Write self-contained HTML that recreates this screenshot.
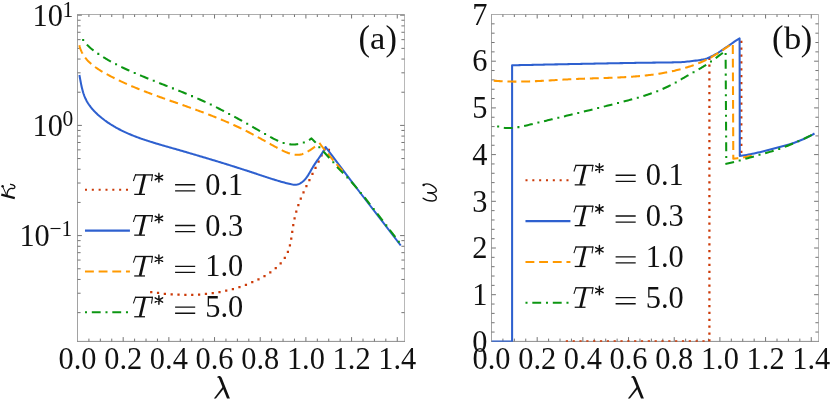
<!DOCTYPE html>
<html><head><meta charset="utf-8"><title>plot</title>
<style>
html,body{margin:0;padding:0;background:#fff;}
body{width:830px;height:400px;overflow:hidden;}
svg{display:block;will-change:transform;}
text{font-family:"Liberation Serif",serif;fill:#111;}
.it{font-style:italic;}
</style></head><body>
<svg width="830" height="400" viewBox="0 0 830 400">
<rect x="0" y="0" width="830" height="400" fill="#ffffff"/>

<defs><clipPath id="ca"><rect x="77.5" y="14.5" width="327.0" height="327.25"/></clipPath><clipPath id="cb"><rect x="491.5" y="14.5" width="327.0" height="327.25"/></clipPath></defs>
<g fill="none" stroke-width="1" stroke-linecap="square"><path d="M77.5,14.5 H404.5" stroke="#adadad"/><path d="M404.5,14.5 V341.4" stroke="#b8b8b8"/><path d="M77.5,14.5 V341.4" stroke="#a2a2a2"/><path d="M77.5,341.4 H404.5" stroke="#8c8c8c"/></g>
<path d="M88.92,341.4 v-2.8 M88.92,14.5 v2.5 M100.34,341.4 v-2.8 M100.34,14.5 v2.5 M111.76,341.4 v-2.8 M111.76,14.5 v2.5 M123.18,341.4 v-4.3 M123.18,14.5 v4.0 M134.60,341.4 v-2.8 M134.60,14.5 v2.5 M146.02,341.4 v-2.8 M146.02,14.5 v2.5 M157.44,341.4 v-2.8 M157.44,14.5 v2.5 M168.86,341.4 v-4.3 M168.86,14.5 v4.0 M180.28,341.4 v-2.8 M180.28,14.5 v2.5 M191.70,341.4 v-2.8 M191.70,14.5 v2.5 M203.12,341.4 v-2.8 M203.12,14.5 v2.5 M214.54,341.4 v-4.3 M214.54,14.5 v4.0 M225.96,341.4 v-2.8 M225.96,14.5 v2.5 M237.38,341.4 v-2.8 M237.38,14.5 v2.5 M248.80,341.4 v-2.8 M248.80,14.5 v2.5 M260.22,341.4 v-4.3 M260.22,14.5 v4.0 M271.64,341.4 v-2.8 M271.64,14.5 v2.5 M283.06,341.4 v-2.8 M283.06,14.5 v2.5 M294.48,341.4 v-2.8 M294.48,14.5 v2.5 M305.90,341.4 v-4.3 M305.90,14.5 v4.0 M317.32,341.4 v-2.8 M317.32,14.5 v2.5 M328.74,341.4 v-2.8 M328.74,14.5 v2.5 M340.16,341.4 v-2.8 M340.16,14.5 v2.5 M351.58,341.4 v-4.3 M351.58,14.5 v4.0 M363.00,341.4 v-2.8 M363.00,14.5 v2.5 M374.42,341.4 v-2.8 M374.42,14.5 v2.5 M385.84,341.4 v-2.8 M385.84,14.5 v2.5 M397.26,341.4 v-4.3 M397.26,14.5 v4.0 M77.5,15.20 h4.4 M404.5,15.20 h-4.4 M77.5,125.40 h4.4 M404.5,125.40 h-4.4 M77.5,235.60 h4.4 M404.5,235.60 h-4.4 M77.5,92.23 h3.1 M404.5,92.23 h-3.1 M77.5,72.82 h3.1 M404.5,72.82 h-3.1 M77.5,59.05 h3.1 M404.5,59.05 h-3.1 M77.5,48.37 h3.1 M404.5,48.37 h-3.1 M77.5,39.65 h3.1 M404.5,39.65 h-3.1 M77.5,32.27 h3.1 M404.5,32.27 h-3.1 M77.5,25.88 h3.1 M404.5,25.88 h-3.1 M77.5,20.24 h3.1 M404.5,20.24 h-3.1 M77.5,202.43 h3.1 M404.5,202.43 h-3.1 M77.5,183.02 h3.1 M404.5,183.02 h-3.1 M77.5,169.25 h3.1 M404.5,169.25 h-3.1 M77.5,158.57 h3.1 M404.5,158.57 h-3.1 M77.5,149.85 h3.1 M404.5,149.85 h-3.1 M77.5,142.47 h3.1 M404.5,142.47 h-3.1 M77.5,136.08 h3.1 M404.5,136.08 h-3.1 M77.5,130.44 h3.1 M404.5,130.44 h-3.1 M77.5,312.63 h3.1 M404.5,312.63 h-3.1 M77.5,293.22 h3.1 M404.5,293.22 h-3.1 M77.5,279.45 h3.1 M404.5,279.45 h-3.1 M77.5,268.77 h3.1 M404.5,268.77 h-3.1 M77.5,260.05 h3.1 M404.5,260.05 h-3.1 M77.5,252.67 h3.1 M404.5,252.67 h-3.1 M77.5,246.28 h3.1 M404.5,246.28 h-3.1 M77.5,240.64 h3.1 M404.5,240.64 h-3.1" fill="none" stroke="#747474" stroke-width="1"/>
<g fill="none" stroke-width="1" stroke-linecap="square"><path d="M491.5,14.5 H818.5" stroke="#adadad"/><path d="M818.5,14.5 V341.4" stroke="#b8b8b8"/><path d="M491.5,14.5 V341.4" stroke="#a2a2a2"/><path d="M491.5,341.4 H818.5" stroke="#8c8c8c"/></g>
<path d="M502.92,341.4 v-2.8 M502.92,14.5 v2.5 M514.34,341.4 v-2.8 M514.34,14.5 v2.5 M525.76,341.4 v-2.8 M525.76,14.5 v2.5 M537.18,341.4 v-4.3 M537.18,14.5 v4.0 M548.60,341.4 v-2.8 M548.60,14.5 v2.5 M560.02,341.4 v-2.8 M560.02,14.5 v2.5 M571.44,341.4 v-2.8 M571.44,14.5 v2.5 M582.86,341.4 v-4.3 M582.86,14.5 v4.0 M594.28,341.4 v-2.8 M594.28,14.5 v2.5 M605.70,341.4 v-2.8 M605.70,14.5 v2.5 M617.12,341.4 v-2.8 M617.12,14.5 v2.5 M628.54,341.4 v-4.3 M628.54,14.5 v4.0 M639.96,341.4 v-2.8 M639.96,14.5 v2.5 M651.38,341.4 v-2.8 M651.38,14.5 v2.5 M662.80,341.4 v-2.8 M662.80,14.5 v2.5 M674.22,341.4 v-4.3 M674.22,14.5 v4.0 M685.64,341.4 v-2.8 M685.64,14.5 v2.5 M697.06,341.4 v-2.8 M697.06,14.5 v2.5 M708.48,341.4 v-2.8 M708.48,14.5 v2.5 M719.90,341.4 v-4.3 M719.90,14.5 v4.0 M731.32,341.4 v-2.8 M731.32,14.5 v2.5 M742.74,341.4 v-2.8 M742.74,14.5 v2.5 M754.16,341.4 v-2.8 M754.16,14.5 v2.5 M765.58,341.4 v-4.3 M765.58,14.5 v4.0 M777.00,341.4 v-2.8 M777.00,14.5 v2.5 M788.42,341.4 v-2.8 M788.42,14.5 v2.5 M799.84,341.4 v-2.8 M799.84,14.5 v2.5 M811.26,341.4 v-4.3 M811.26,14.5 v4.0 M491.5,294.70 h4.4 M818.5,294.70 h-4.4 M491.5,248.00 h4.4 M818.5,248.00 h-4.4 M491.5,201.30 h4.4 M818.5,201.30 h-4.4 M491.5,154.60 h4.4 M818.5,154.60 h-4.4 M491.5,107.90 h4.4 M818.5,107.90 h-4.4 M491.5,61.20 h4.4 M818.5,61.20 h-4.4 M491.5,332.06 h3.1 M818.5,332.06 h-3.1 M491.5,322.72 h3.1 M818.5,322.72 h-3.1 M491.5,313.38 h3.1 M818.5,313.38 h-3.1 M491.5,304.04 h3.1 M818.5,304.04 h-3.1 M491.5,285.36 h3.1 M818.5,285.36 h-3.1 M491.5,276.02 h3.1 M818.5,276.02 h-3.1 M491.5,266.68 h3.1 M818.5,266.68 h-3.1 M491.5,257.34 h3.1 M818.5,257.34 h-3.1 M491.5,238.66 h3.1 M818.5,238.66 h-3.1 M491.5,229.32 h3.1 M818.5,229.32 h-3.1 M491.5,219.98 h3.1 M818.5,219.98 h-3.1 M491.5,210.64 h3.1 M818.5,210.64 h-3.1 M491.5,191.96 h3.1 M818.5,191.96 h-3.1 M491.5,182.62 h3.1 M818.5,182.62 h-3.1 M491.5,173.28 h3.1 M818.5,173.28 h-3.1 M491.5,163.94 h3.1 M818.5,163.94 h-3.1 M491.5,145.26 h3.1 M818.5,145.26 h-3.1 M491.5,135.92 h3.1 M818.5,135.92 h-3.1 M491.5,126.58 h3.1 M818.5,126.58 h-3.1 M491.5,117.24 h3.1 M818.5,117.24 h-3.1 M491.5,98.56 h3.1 M818.5,98.56 h-3.1 M491.5,89.22 h3.1 M818.5,89.22 h-3.1 M491.5,79.88 h3.1 M818.5,79.88 h-3.1 M491.5,70.54 h3.1 M818.5,70.54 h-3.1 M491.5,51.86 h3.1 M818.5,51.86 h-3.1 M491.5,42.52 h3.1 M818.5,42.52 h-3.1 M491.5,33.18 h3.1 M818.5,33.18 h-3.1 M491.5,23.84 h3.1 M818.5,23.84 h-3.1" fill="none" stroke="#747474" stroke-width="1"/>
<g clip-path="url(#ca)"><path d="M151.25,292.00 L152.42,292.18 L153.60,292.36 L154.78,292.53 L155.96,292.69 L157.14,292.85 L158.32,293.01 L159.50,293.16 L160.69,293.30 L161.88,293.44 L163.06,293.57 L164.25,293.70 L165.44,293.81 L166.64,293.93 L167.83,294.04 L169.02,294.14 L170.22,294.23 L171.42,294.32 L172.61,294.41 L173.81,294.48 L175.01,294.55 L176.21,294.62 L177.41,294.68 L178.61,294.73 L179.81,294.77 L181.01,294.81 L182.21,294.84 L183.41,294.86 L184.61,294.88 L185.82,294.89 L187.02,294.89 L188.22,294.89 L189.42,294.88 L190.62,294.86 L191.83,294.84 L193.03,294.80 L194.23,294.77 L195.43,294.72 L196.63,294.66 L197.83,294.60 L199.03,294.53 L200.23,294.45 L201.43,294.37 L202.62,294.28 L203.82,294.18 L205.02,294.07 L206.21,293.95 L207.40,293.83 L208.60,293.70 L209.79,293.56 L210.98,293.41 L212.17,293.25 L213.35,293.09 L214.54,292.91 L215.73,292.73 L216.91,292.54 L218.09,292.34 L219.27,292.13 L220.45,291.92 L221.63,291.69 L222.80,291.46 L223.97,291.22 L225.14,290.97 L226.31,290.71 L227.48,290.44 L228.64,290.16 L229.80,289.87 L230.96,289.58 L232.12,289.27 L233.28,288.96 L234.43,288.63 L235.58,288.30 L236.73,287.96 L237.87,287.61 L239.01,287.24 L240.15,286.87 L241.29,286.49 L242.42,286.10 L243.55,285.70 L244.68,285.29 L245.80,284.87 L246.92,284.44 L248.04,284.00 L249.16,283.55 L250.27,283.08 L251.37,282.61 L252.48,282.13 L253.58,281.64 L254.68,281.14 L255.77,280.63 L256.86,280.10 L257.94,279.57 L259.02,279.02 L260.10,278.47 L261.17,277.90 L262.24,277.33 L263.30,276.74 L264.36,276.14 L265.41,275.52 L266.45,274.90 L267.48,274.26 L268.49,273.61 L269.50,272.94 L270.50,272.26 L271.48,271.57 L272.44,270.86 L273.40,270.14 L274.33,269.40 L275.25,268.65 L276.15,267.88 L277.04,267.09 L277.90,266.29 L278.74,265.47 L279.56,264.63 L280.36,263.77 L281.14,262.90 L281.89,262.01 L282.61,261.10 L283.31,260.16 L283.98,259.21 L284.63,258.24 L285.24,257.25 L285.83,256.24 L286.39,255.21 L286.91,254.16 L287.40,253.08 L287.86,251.98 L288.29,250.87 L288.68,249.73 L289.05,248.58 L289.39,247.41 L289.71,246.23 L290.00,245.03 L290.28,243.83 L290.53,242.62 L290.77,241.41 L290.99,240.19 L291.20,238.97 L291.39,237.75 L291.58,236.53 L291.76,235.31 L291.93,234.10 L292.10,232.89 L292.27,231.68 L292.44,230.48 L292.61,229.28 L292.78,228.08 L292.96,226.89 L293.14,225.70 L293.34,224.52 L293.55,223.34 L293.77,222.16 L294.00,220.99 L294.24,219.83 L294.49,218.67 L294.76,217.51 L295.03,216.35 L295.32,215.20 L295.62,214.06 L295.93,212.92 L296.25,211.78 L296.58,210.64 L296.92,209.51 L297.27,208.38 L297.64,207.26 L298.01,206.13 L298.39,205.01 L298.79,203.90 L299.20,202.78 L299.61,201.67 L300.04,200.56 L300.48,199.46 L300.93,198.35 L301.39,197.25 L301.86,196.15 L302.34,195.05 L302.82,193.95 L303.32,192.86 L303.81,191.77 L304.32,190.67 L304.82,189.58 L305.33,188.50 L305.85,187.41 L306.37,186.32 L306.89,185.24 L307.41,184.15 L307.94,183.07 L308.47,181.99 L309.00,180.91 L309.53,179.83 L310.06,178.75 L310.60,177.67 L311.13,176.60 L311.67,175.52 L312.20,174.45 L312.74,173.38 L313.27,172.30 L313.80,171.23 L314.34,170.16 L314.87,169.09 L315.40,168.02 L315.94,166.95 L316.47,165.88 L317.00,164.81 L317.53,163.74 L318.06,162.67 L318.59,161.60 L319.12,160.53 L319.64,159.46 L320.17,158.39 L320.70,157.31 L321.22,156.24 L321.75,155.16 L322.27,154.09 L322.80,153.01 L323.32,151.93 L323.84,150.85 L324.36,149.77 L324.88,148.69 L325.40,147.60 L325.40,147.60 L326.60,147.00 L331.20,152.60" fill="none" stroke="#cc3a08" stroke-width="2.25" stroke-linejoin="round" stroke-dasharray="0 6.858" stroke-linecap="square"/></g>
<g clip-path="url(#ca)"><path d="M79.40,75.00 L79.61,76.14 L79.82,77.29 L80.03,78.45 L80.25,79.61 L80.46,80.79 L80.69,81.97 L80.92,83.15 L81.15,84.34 L81.40,85.53 L81.66,86.72 L81.94,87.90 L82.23,89.08 L82.54,90.26 L82.87,91.43 L83.21,92.59 L83.58,93.75 L83.98,94.89 L84.40,96.02 L84.85,97.13 L85.33,98.24 L85.84,99.32 L86.38,100.39 L86.95,101.44 L87.55,102.47 L88.18,103.48 L88.84,104.48 L89.53,105.46 L90.24,106.42 L90.97,107.37 L91.73,108.30 L92.51,109.22 L93.31,110.12 L94.12,111.00 L94.96,111.87 L95.81,112.72 L96.68,113.56 L97.56,114.38 L98.45,115.19 L99.36,115.99 L100.28,116.77 L101.20,117.53 L102.13,118.29 L103.08,119.03 L104.03,119.75 L104.98,120.47 L105.95,121.17 L106.92,121.86 L107.90,122.54 L108.88,123.20 L109.88,123.85 L110.87,124.49 L111.88,125.12 L112.89,125.74 L113.91,126.35 L114.94,126.94 L115.97,127.53 L117.01,128.11 L118.05,128.67 L119.10,129.23 L120.15,129.77 L121.21,130.31 L122.28,130.84 L123.35,131.35 L124.42,131.86 L125.50,132.36 L126.58,132.86 L127.67,133.34 L128.77,133.82 L129.86,134.28 L130.97,134.74 L132.07,135.20 L133.18,135.64 L134.29,136.08 L135.41,136.52 L136.53,136.94 L137.66,137.36 L138.78,137.78 L139.91,138.18 L141.04,138.59 L142.18,138.98 L143.32,139.38 L144.46,139.76 L145.60,140.14 L146.75,140.52 L147.89,140.89 L149.04,141.26 L150.19,141.63 L151.35,141.99 L152.50,142.35 L153.65,142.70 L154.81,143.06 L155.97,143.40 L157.13,143.75 L158.29,144.10 L159.45,144.44 L160.61,144.78 L161.77,145.12 L162.93,145.45 L164.09,145.79 L165.25,146.12 L166.41,146.46 L167.57,146.79 L168.73,147.12 L169.89,147.45 L171.05,147.78 L172.21,148.12 L173.37,148.45 L174.53,148.78 L175.68,149.11 L176.84,149.45 L177.99,149.78 L179.15,150.11 L180.30,150.44 L181.45,150.78 L182.60,151.11 L183.76,151.45 L184.91,151.78 L186.06,152.11 L187.21,152.45 L188.36,152.78 L189.51,153.12 L190.66,153.45 L191.80,153.79 L192.95,154.12 L194.10,154.46 L195.24,154.80 L196.39,155.13 L197.54,155.47 L198.68,155.81 L199.83,156.15 L200.97,156.48 L202.11,156.82 L203.26,157.16 L204.40,157.50 L205.54,157.84 L206.69,158.18 L207.83,158.53 L208.97,158.87 L210.11,159.21 L211.25,159.56 L212.39,159.90 L213.53,160.24 L214.67,160.59 L215.82,160.94 L216.96,161.28 L218.10,161.63 L219.23,161.98 L220.37,162.33 L221.51,162.68 L222.65,163.03 L223.79,163.38 L224.93,163.73 L226.07,164.08 L227.21,164.44 L228.35,164.79 L229.49,165.14 L230.62,165.50 L231.76,165.86 L232.90,166.22 L234.04,166.57 L235.18,166.93 L236.32,167.30 L237.46,167.66 L238.59,168.02 L239.73,168.38 L240.87,168.75 L242.01,169.11 L243.15,169.48 L244.29,169.85 L245.43,170.22 L246.57,170.59 L247.71,170.96 L248.84,171.33 L249.98,171.70 L251.12,172.08 L252.26,172.45 L253.40,172.83 L254.54,173.21 L255.69,173.59 L256.83,173.97 L257.97,174.35 L259.11,174.73 L260.25,175.11 L261.39,175.50 L262.54,175.88 L263.68,176.26 L264.82,176.64 L265.97,177.01 L267.12,177.39 L268.26,177.76 L269.41,178.13 L270.56,178.50 L271.71,178.87 L272.86,179.23 L274.01,179.59 L275.16,179.94 L276.31,180.29 L277.47,180.64 L278.62,180.98 L279.78,181.32 L280.94,181.65 L282.10,181.97 L283.26,182.29 L284.42,182.61 L285.58,182.91 L286.75,183.21 L287.91,183.50 L289.08,183.79 L290.25,184.07 L291.42,184.33 L292.59,184.56 L293.75,184.72 L294.90,184.80 L296.03,184.76 L297.13,184.59 L298.22,184.30 L299.27,183.88 L300.30,183.36 L301.29,182.74 L302.25,182.04 L303.17,181.26 L304.06,180.42 L304.90,179.53 L305.69,178.60 L306.44,177.63 L307.16,176.64 L307.85,175.62 L308.51,174.58 L309.15,173.52 L309.77,172.46 L310.38,171.39 L310.99,170.32 L311.60,169.25 L312.21,168.20 L312.83,167.16 L313.47,166.13 L314.11,165.12 L314.77,164.12 L315.43,163.13 L316.09,162.15 L316.76,161.17 L317.44,160.20 L318.11,159.23 L318.78,158.26 L319.45,157.29 L320.11,156.31 L320.77,155.33 L321.42,154.34 L322.06,153.34 L322.69,152.32 L323.30,151.29 L323.90,150.25 L324.49,149.19 L325.05,148.11 L325.60,147.00 L325.60,147.00 L332.50,156.20 L337.50,162.80 L348.10,176.90 L360.00,192.50 L380.00,218.40 L400.75,245.50" fill="none" stroke="#2e60cf" stroke-width="2.05" stroke-linejoin="round" /></g>
<g clip-path="url(#ca)"><path d="M79.10,44.20 L79.38,45.47 L79.71,46.70 L80.08,47.90 L80.48,49.07 L80.93,50.21 L81.41,51.32 L81.93,52.40 L82.48,53.46 L83.07,54.48 L83.69,55.48 L84.34,56.45 L85.03,57.40 L85.74,58.32 L86.48,59.22 L87.24,60.09 L88.04,60.95 L88.85,61.78 L89.70,62.59 L90.56,63.38 L91.44,64.16 L92.35,64.91 L93.27,65.65 L94.21,66.37 L95.17,67.07 L96.14,67.76 L97.13,68.44 L98.13,69.10 L99.14,69.75 L100.16,70.39 L101.19,71.02 L102.23,71.64 L103.28,72.24 L104.33,72.84 L105.39,73.43 L106.45,74.02 L107.52,74.59 L108.59,75.16 L109.65,75.73 L110.72,76.29 L111.80,76.84 L112.87,77.39 L113.95,77.94 L115.02,78.47 L116.10,79.01 L117.18,79.54 L118.26,80.06 L119.35,80.58 L120.43,81.09 L121.52,81.60 L122.61,82.10 L123.70,82.60 L124.79,83.10 L125.88,83.59 L126.97,84.07 L128.07,84.56 L129.16,85.03 L130.26,85.51 L131.36,85.98 L132.46,86.45 L133.56,86.91 L134.67,87.37 L135.77,87.83 L136.87,88.28 L137.98,88.73 L139.09,89.17 L140.20,89.62 L141.31,90.06 L142.42,90.49 L143.53,90.93 L144.64,91.36 L145.75,91.79 L146.87,92.22 L147.98,92.64 L149.10,93.06 L150.22,93.48 L151.33,93.90 L152.45,94.32 L153.57,94.73 L154.69,95.14 L155.81,95.55 L156.93,95.96 L158.05,96.37 L159.18,96.77 L160.30,97.17 L161.42,97.58 L162.55,97.98 L163.67,98.38 L164.80,98.78 L165.92,99.18 L167.05,99.57 L168.18,99.97 L169.30,100.37 L170.43,100.76 L171.56,101.16 L172.69,101.55 L173.81,101.95 L174.94,102.34 L176.07,102.74 L177.20,103.13 L178.33,103.53 L179.46,103.92 L180.59,104.32 L181.72,104.71 L182.85,105.11 L183.97,105.50 L185.10,105.90 L186.23,106.30 L187.36,106.70 L188.49,107.10 L189.62,107.50 L190.75,107.90 L191.88,108.31 L193.01,108.71 L194.14,109.12 L195.26,109.52 L196.39,109.93 L197.52,110.35 L198.65,110.76 L199.77,111.17 L200.90,111.59 L202.03,112.01 L203.15,112.43 L204.28,112.86 L205.40,113.28 L206.53,113.71 L207.65,114.14 L208.77,114.57 L209.89,115.01 L211.01,115.44 L212.13,115.88 L213.25,116.33 L214.37,116.77 L215.49,117.22 L216.60,117.67 L217.72,118.12 L218.83,118.58 L219.94,119.03 L221.05,119.49 L222.16,119.96 L223.27,120.42 L224.37,120.89 L225.48,121.36 L226.58,121.84 L227.68,122.31 L228.78,122.79 L229.88,123.28 L230.97,123.76 L232.07,124.25 L233.16,124.74 L234.25,125.24 L235.34,125.74 L236.42,126.24 L237.50,126.75 L238.59,127.25 L239.66,127.77 L240.74,128.28 L241.81,128.80 L242.88,129.32 L243.95,129.85 L245.02,130.38 L246.08,130.91 L247.14,131.44 L248.20,131.98 L249.26,132.53 L250.31,133.07 L251.36,133.63 L252.40,134.18 L253.45,134.74 L254.49,135.30 L255.53,135.86 L256.57,136.43 L257.61,136.99 L258.65,137.57 L259.69,138.14 L260.73,138.71 L261.77,139.29 L262.81,139.87 L263.85,140.45 L264.89,141.03 L265.94,141.61 L266.98,142.19 L268.03,142.77 L269.08,143.36 L270.13,143.94 L271.19,144.53 L272.25,145.11 L273.31,145.69 L274.38,146.28 L275.45,146.86 L276.53,147.44 L277.61,148.02 L278.70,148.60 L279.79,149.18 L280.89,149.74 L281.99,150.30 L283.10,150.84 L284.20,151.35 L285.32,151.85 L286.43,152.32 L287.55,152.76 L288.66,153.17 L289.79,153.54 L290.91,153.87 L292.03,154.15 L293.15,154.39 L294.28,154.58 L295.40,154.71 L296.52,154.78 L297.64,154.79 L298.76,154.74 L299.88,154.62 L301.00,154.42 L302.12,154.15 L303.23,153.80 L304.34,153.36 L305.44,152.85 L306.54,152.28 L307.64,151.65 L308.73,150.98 L309.81,150.27 L310.88,149.55 L311.94,148.81 L312.99,148.07 L314.04,147.34 L315.07,146.63 L316.08,145.95 L317.08,145.31 L318.07,144.72 L319.04,144.20 L320.00,143.75 L320.00,143.75 L323.75,148.75 L332.50,159.40 L338.00,165.80 L343.00,171.40" fill="none" stroke="#ff9900" stroke-width="2.05" stroke-linejoin="round" stroke-dasharray="6.83 6.83" stroke-linecap="square" stroke-dashoffset="-2.2"/></g>
<g clip-path="url(#ca)"><path d="M82.50,39.10 L83.17,40.10 L83.88,41.07 L84.61,42.01 L85.37,42.93 L86.16,43.83 L86.97,44.70 L87.80,45.55 L88.65,46.37 L89.53,47.18 L90.42,47.97 L91.33,48.74 L92.25,49.49 L93.19,50.23 L94.14,50.95 L95.10,51.66 L96.08,52.36 L97.06,53.05 L98.04,53.72 L99.04,54.39 L100.03,55.04 L101.04,55.69 L102.04,56.34 L103.05,56.97 L104.07,57.59 L105.09,58.21 L106.11,58.82 L107.14,59.42 L108.17,60.02 L109.21,60.61 L110.25,61.19 L111.29,61.76 L112.34,62.33 L113.39,62.89 L114.44,63.45 L115.50,64.00 L116.56,64.55 L117.62,65.09 L118.69,65.62 L119.75,66.15 L120.83,66.67 L121.90,67.19 L122.98,67.70 L124.06,68.21 L125.14,68.72 L126.22,69.22 L127.31,69.72 L128.39,70.21 L129.48,70.70 L130.57,71.19 L131.67,71.67 L132.76,72.16 L133.86,72.63 L134.95,73.11 L136.05,73.58 L137.15,74.05 L138.26,74.52 L139.36,74.98 L140.46,75.45 L141.57,75.91 L142.67,76.36 L143.78,76.82 L144.89,77.28 L146.00,77.73 L147.11,78.18 L148.22,78.63 L149.33,79.08 L150.45,79.52 L151.56,79.97 L152.67,80.41 L153.79,80.85 L154.90,81.30 L156.02,81.74 L157.13,82.18 L158.25,82.62 L159.37,83.06 L160.48,83.49 L161.60,83.93 L162.72,84.37 L163.83,84.81 L164.95,85.24 L166.07,85.68 L167.19,86.12 L168.30,86.56 L169.42,86.99 L170.54,87.43 L171.65,87.87 L172.77,88.31 L173.88,88.75 L175.00,89.19 L176.11,89.63 L177.23,90.07 L178.34,90.52 L179.45,90.96 L180.57,91.41 L181.68,91.85 L182.79,92.30 L183.90,92.75 L185.01,93.20 L186.11,93.66 L187.22,94.11 L188.32,94.57 L189.43,95.03 L190.53,95.49 L191.63,95.95 L192.73,96.42 L193.83,96.89 L194.93,97.36 L196.03,97.83 L197.12,98.31 L198.21,98.79 L199.31,99.27 L200.40,99.76 L201.48,100.24 L202.57,100.74 L203.65,101.23 L204.74,101.73 L205.82,102.23 L206.90,102.74 L207.97,103.24 L209.05,103.75 L210.12,104.27 L211.20,104.78 L212.27,105.30 L213.34,105.82 L214.40,106.35 L215.47,106.88 L216.54,107.41 L217.60,107.94 L218.66,108.48 L219.73,109.02 L220.79,109.56 L221.85,110.10 L222.91,110.64 L223.96,111.19 L225.02,111.74 L226.08,112.30 L227.13,112.85 L228.18,113.41 L229.24,113.97 L230.29,114.53 L231.34,115.09 L232.39,115.66 L233.44,116.22 L234.49,116.79 L235.54,117.36 L236.59,117.94 L237.64,118.51 L238.69,119.09 L239.74,119.66 L240.78,120.24 L241.83,120.82 L242.88,121.40 L243.92,121.99 L244.97,122.57 L246.02,123.16 L247.06,123.75 L248.11,124.34 L249.15,124.93 L250.20,125.52 L251.25,126.11 L252.29,126.70 L253.34,127.30 L254.39,127.89 L255.43,128.49 L256.48,129.09 L257.53,129.68 L258.58,130.28 L259.63,130.88 L260.68,131.48 L261.73,132.08 L262.78,132.68 L263.83,133.29 L264.88,133.89 L265.93,134.49 L266.98,135.09 L268.04,135.69 L269.09,136.28 L270.15,136.87 L271.21,137.45 L272.27,138.02 L273.34,138.58 L274.41,139.12 L275.48,139.65 L276.55,140.16 L277.63,140.65 L278.71,141.12 L279.80,141.57 L280.89,141.99 L281.99,142.39 L283.09,142.76 L284.19,143.09 L285.31,143.40 L286.42,143.67 L287.55,143.90 L288.68,144.10 L289.82,144.25 L290.96,144.37 L292.12,144.44 L293.28,144.47 L294.45,144.45 L295.62,144.38 L296.80,144.26 L297.98,144.10 L299.16,143.89 L300.34,143.63 L301.51,143.32 L302.68,142.97 L303.84,142.57 L304.98,142.12 L306.11,141.62 L307.23,141.07 L308.33,140.47 L309.41,139.83 L310.47,139.14 L311.50,138.40 L311.50,138.40 L315.60,142.50 L320.00,148.10 L324.40,152.50 L329.40,158.10 L333.75,162.75 L338.10,168.10 L343.10,173.10 L348.10,178.10 L355.00,186.00 L365.00,198.00 L380.00,217.20 L400.90,244.40" fill="none" stroke="#0c9612" stroke-width="2.05" stroke-linejoin="round" stroke-dasharray="0 6.865 6.865 6.865" stroke-linecap="square" stroke-dashoffset="-1.2"/></g>
<g clip-path="url(#cb)"><path d="M566.90,341.40 L709.40,341.40" fill="none" stroke="#cc3a08" stroke-width="2.25" stroke-linejoin="round" stroke-dasharray="0 6.83" stroke-linecap="square"/></g>
<g clip-path="url(#cb)"><path d="M709.40,341.40 L709.40,58.00" fill="none" stroke="#cc3a08" stroke-width="2.25" stroke-linejoin="round" stroke-dasharray="0 6.87" stroke-linecap="square" stroke-dashoffset="-0.93"/></g>
<g><path d="M741.30,41.85 L741.30,158.00" fill="none" stroke="#cc3a08" stroke-width="2.25" stroke-linejoin="round" stroke-dasharray="0 6.87" stroke-linecap="square"/></g>
<g clip-path="url(#cb)"><path d="M491.50,341.40 L512.10,341.40 L512.10,65.30 L513.00,65.28 L514.63,65.25 L516.26,65.21 L517.89,65.17 L519.52,65.14 L521.15,65.10 L522.78,65.07 L524.41,65.03 L526.04,65.00 L527.67,64.97 L529.30,64.93 L530.93,64.90 L532.56,64.86 L534.19,64.83 L535.82,64.79 L537.45,64.76 L539.08,64.73 L540.71,64.69 L542.34,64.66 L543.97,64.62 L545.60,64.59 L547.23,64.56 L548.86,64.52 L550.49,64.49 L552.13,64.46 L553.76,64.42 L555.39,64.39 L557.02,64.36 L558.65,64.32 L560.28,64.29 L561.91,64.26 L563.54,64.23 L565.17,64.19 L566.80,64.16 L568.43,64.13 L570.06,64.10 L571.69,64.06 L573.32,64.03 L574.95,64.00 L576.58,63.97 L578.21,63.94 L579.84,63.91 L581.47,63.87 L583.10,63.84 L584.73,63.81 L586.36,63.78 L587.99,63.75 L589.62,63.72 L591.25,63.68 L592.88,63.65 L594.51,63.62 L596.14,63.59 L597.77,63.56 L599.40,63.53 L601.03,63.50 L602.66,63.47 L604.29,63.44 L605.92,63.40 L607.55,63.37 L609.18,63.34 L610.81,63.31 L612.44,63.28 L614.07,63.25 L615.70,63.22 L617.33,63.19 L618.96,63.16 L620.59,63.13 L622.22,63.11 L623.85,63.08 L625.48,63.05 L627.12,63.02 L628.75,62.99 L630.38,62.96 L632.01,62.93 L633.64,62.91 L635.27,62.88 L636.90,62.85 L638.53,62.82 L640.16,62.80 L641.79,62.77 L643.42,62.75 L645.05,62.73 L646.68,62.71 L648.31,62.69 L649.94,62.67 L651.57,62.65 L653.20,62.64 L654.83,62.62 L656.46,62.60 L658.09,62.59 L659.72,62.57 L661.35,62.55 L662.98,62.53 L664.61,62.51 L666.24,62.49 L667.87,62.47 L669.50,62.44 L671.13,62.41 L672.76,62.38 L674.39,62.34 L676.02,62.31 L677.65,62.27 L679.28,62.22 L680.91,62.17 L682.54,62.07 L684.17,61.94 L685.80,61.78 L687.43,61.60 L689.06,61.41 L690.69,61.21 L692.32,61.02 L693.95,60.83 L695.58,60.63 L697.21,60.42 L698.84,60.18 L700.47,59.92 L702.11,59.63 L703.74,59.30 L705.37,58.90 L707.00,58.38 L708.63,57.75 L710.26,56.99 L711.89,56.18 L713.52,55.34 L715.15,54.45 L716.78,53.53 L718.41,52.55 L720.04,51.50 L721.67,50.41 L723.30,49.30 L724.93,48.21 L726.56,47.11 L728.19,46.00 L729.82,44.88 L731.45,43.73 L733.08,42.57 L734.71,41.44 L736.34,40.38 L737.97,39.37 L739.60,38.40 L739.80,156.00 L741.00,155.83 L742.88,155.54 L744.77,155.23 L746.65,154.90 L748.54,154.56 L750.42,154.19 L752.31,153.82 L754.19,153.42 L756.08,153.02 L757.96,152.60 L759.85,152.16 L761.73,151.72 L763.62,151.26 L765.50,150.80 L767.38,150.33 L769.27,149.84 L771.15,149.36 L773.04,148.86 L774.92,148.36 L776.81,147.86 L778.69,147.35 L780.58,146.84 L782.46,146.33 L784.35,145.81 L786.23,145.28 L788.12,144.73 L790.00,144.16 L791.88,143.56 L793.77,142.93 L795.65,142.27 L797.54,141.56 L799.42,140.82 L801.31,140.04 L803.19,139.22 L805.08,138.36 L806.96,137.47 L808.85,136.53 L810.73,135.56 L812.62,134.55 L814.50,133.50" fill="none" stroke="#2e60cf" stroke-width="2.05" stroke-linejoin="round" /></g>
<g><path d="M494.75,80.80 L495.96,80.89 L497.17,80.98 L498.37,81.06 L499.58,81.14 L500.78,81.21 L501.99,81.27 L503.19,81.33 L504.39,81.38 L505.59,81.43 L506.79,81.47 L507.99,81.51 L509.19,81.54 L510.39,81.56 L511.59,81.58 L512.78,81.60 L513.98,81.61 L515.18,81.62 L516.37,81.62 L517.56,81.62 L518.76,81.61 L519.95,81.60 L521.14,81.59 L522.34,81.57 L523.53,81.55 L524.72,81.53 L525.91,81.50 L527.10,81.47 L528.29,81.44 L529.48,81.40 L530.67,81.36 L531.86,81.32 L533.05,81.27 L534.23,81.22 L535.42,81.17 L536.61,81.12 L537.80,81.07 L538.99,81.01 L540.17,80.95 L541.36,80.89 L542.55,80.83 L543.74,80.77 L544.92,80.71 L546.11,80.64 L547.30,80.57 L548.48,80.51 L549.67,80.44 L550.86,80.37 L552.05,80.30 L553.24,80.23 L554.42,80.16 L555.61,80.09 L556.80,80.02 L557.99,79.95 L559.18,79.88 L560.37,79.81 L561.56,79.74 L562.75,79.67 L563.94,79.60 L565.13,79.53 L566.32,79.47 L567.51,79.40 L568.71,79.34 L569.90,79.27 L571.09,79.21 L572.29,79.15 L573.48,79.09 L574.68,79.04 L575.87,78.98 L577.07,78.93 L578.26,78.88 L579.46,78.83 L580.66,78.78 L581.86,78.73 L583.06,78.69 L584.26,78.64 L585.46,78.60 L586.66,78.56 L587.86,78.52 L589.06,78.48 L590.26,78.44 L591.46,78.40 L592.67,78.36 L593.87,78.33 L595.07,78.29 L596.27,78.25 L597.48,78.21 L598.68,78.17 L599.88,78.14 L601.09,78.10 L602.29,78.06 L603.49,78.02 L604.70,77.98 L605.90,77.94 L607.10,77.90 L608.31,77.86 L609.51,77.82 L610.71,77.77 L611.92,77.73 L613.12,77.68 L614.32,77.63 L615.52,77.58 L616.73,77.53 L617.93,77.47 L619.13,77.42 L620.33,77.36 L621.53,77.30 L622.73,77.24 L623.93,77.18 L625.13,77.11 L626.33,77.04 L627.53,76.97 L628.73,76.89 L629.93,76.81 L631.12,76.73 L632.32,76.65 L633.52,76.56 L634.71,76.47 L635.91,76.38 L637.10,76.28 L638.30,76.18 L639.49,76.08 L640.68,75.97 L641.87,75.85 L643.06,75.74 L644.25,75.62 L645.44,75.49 L646.63,75.36 L647.82,75.23 L649.00,75.09 L650.19,74.95 L651.37,74.80 L652.56,74.65 L653.74,74.49 L654.92,74.32 L656.10,74.15 L657.28,73.98 L658.45,73.80 L659.63,73.62 L660.81,73.42 L661.98,73.23 L663.15,73.03 L664.33,72.82 L665.50,72.60 L666.66,72.38 L667.83,72.15 L669.00,71.92 L670.16,71.68 L671.33,71.43 L672.49,71.18 L673.65,70.92 L674.81,70.65 L675.97,70.37 L677.12,70.09 L678.28,69.80 L679.43,69.51 L680.58,69.20 L681.73,68.89 L682.88,68.57 L684.02,68.24 L685.17,67.91 L686.31,67.56 L687.45,67.21 L688.59,66.85 L689.72,66.48 L690.86,66.10 L691.99,65.71 L693.12,65.32 L694.24,64.91 L695.36,64.50 L696.48,64.07 L697.59,63.64 L698.70,63.19 L699.81,62.74 L700.91,62.27 L702.01,61.80 L703.10,61.31 L704.19,60.81 L705.27,60.30 L706.34,59.78 L707.41,59.25 L708.48,58.70 L709.54,58.15 L710.59,57.58 L711.63,57.00 L712.67,56.41 L713.71,55.80 L714.74,55.19 L715.76,54.57 L716.78,53.94 L717.79,53.30 L718.80,52.66 L719.81,52.01 L720.81,51.35 L721.82,50.69 L722.81,50.02 L723.81,49.36 L724.80,48.68 L725.79,48.01 L726.78,47.34 L727.77,46.66 L728.75,45.98 L729.74,45.31 L730.73,44.64 L731.71,43.97 L732.70,43.30" fill="none" stroke="#ff9900" stroke-width="2.05" stroke-linejoin="round" stroke-dasharray="6.874 6.874" stroke-linecap="square"/></g>
<g><path d="M732.80,43.40 L733.30,158.70 L743.00,157.60 L752.50,155.60" fill="none" stroke="#ff9900" stroke-width="2.05" stroke-linejoin="round" stroke-dasharray="6.865 6.865" stroke-linecap="square" stroke-dashoffset="-2.6"/></g>
<g><path d="M498.15,126.50 L499.33,126.87 L500.51,127.18 L501.69,127.44 L502.87,127.66 L504.06,127.83 L505.24,127.96 L506.43,128.04 L507.62,128.09 L508.80,128.10 L509.99,128.08 L511.18,128.02 L512.36,127.94 L513.55,127.83 L514.73,127.69 L515.92,127.54 L517.10,127.36 L518.28,127.17 L519.45,126.96 L520.63,126.73 L521.81,126.50 L522.98,126.25 L524.16,125.99 L525.33,125.72 L526.50,125.45 L527.68,125.17 L528.85,124.88 L530.02,124.60 L531.19,124.32 L532.36,124.03 L533.53,123.75 L534.70,123.47 L535.87,123.19 L537.04,122.90 L538.21,122.62 L539.38,122.34 L540.55,122.06 L541.72,121.78 L542.89,121.49 L544.05,121.21 L545.22,120.93 L546.39,120.65 L547.56,120.37 L548.72,120.09 L549.89,119.81 L551.06,119.52 L552.22,119.24 L553.39,118.96 L554.56,118.68 L555.72,118.40 L556.89,118.12 L558.05,117.84 L559.22,117.56 L560.38,117.27 L561.55,116.99 L562.71,116.71 L563.88,116.43 L565.04,116.15 L566.21,115.87 L567.37,115.58 L568.54,115.30 L569.70,115.02 L570.86,114.74 L572.03,114.45 L573.19,114.17 L574.35,113.89 L575.52,113.61 L576.68,113.32 L577.85,113.04 L579.01,112.75 L580.17,112.47 L581.33,112.19 L582.50,111.90 L583.66,111.62 L584.82,111.33 L585.99,111.05 L587.15,110.76 L588.31,110.47 L589.48,110.19 L590.64,109.90 L591.80,109.61 L592.97,109.32 L594.13,109.04 L595.29,108.75 L596.45,108.46 L597.62,108.17 L598.78,107.88 L599.94,107.59 L601.11,107.30 L602.27,107.01 L603.43,106.71 L604.60,106.42 L605.76,106.13 L606.92,105.84 L608.09,105.54 L609.25,105.25 L610.41,104.95 L611.58,104.66 L612.74,104.36 L613.91,104.06 L615.07,103.77 L616.24,103.47 L617.40,103.17 L618.56,102.87 L619.73,102.57 L620.89,102.27 L622.06,101.97 L623.22,101.67 L624.39,101.36 L625.55,101.06 L626.72,100.75 L627.88,100.44 L629.04,100.13 L630.21,99.82 L631.37,99.50 L632.53,99.18 L633.69,98.86 L634.85,98.54 L636.00,98.21 L637.16,97.88 L638.31,97.54 L639.47,97.20 L640.62,96.86 L641.77,96.51 L642.92,96.15 L644.06,95.80 L645.21,95.43 L646.35,95.06 L647.49,94.69 L648.62,94.31 L649.76,93.92 L650.89,93.53 L652.02,93.13 L653.14,92.72 L654.26,92.31 L655.38,91.89 L656.50,91.46 L657.61,91.03 L658.72,90.59 L659.83,90.14 L660.93,89.68 L662.03,89.21 L663.12,88.73 L664.22,88.25 L665.30,87.76 L666.39,87.25 L667.46,86.74 L668.54,86.22 L669.61,85.69 L670.67,85.14 L671.73,84.59 L672.79,84.03 L673.84,83.46 L674.89,82.89 L675.94,82.31 L676.98,81.72 L678.03,81.13 L679.07,80.53 L680.11,79.94 L681.14,79.34 L682.18,78.73 L683.22,78.13 L684.25,77.53 L685.29,76.93 L686.33,76.33 L687.37,75.73 L688.41,75.14 L689.45,74.55 L690.49,73.96 L691.54,73.38 L692.58,72.80 L693.63,72.22 L694.67,71.64 L695.71,71.06 L696.76,70.47 L697.79,69.88 L698.83,69.29 L699.86,68.69 L700.89,68.08 L701.92,67.47 L702.94,66.85 L703.95,66.23 L704.96,65.59 L705.97,64.95 L706.97,64.29 L707.96,63.62 L708.95,62.95 L709.94,62.26 L710.91,61.57 L711.89,60.87 L712.86,60.16 L713.83,59.46 L714.80,58.74 L715.77,58.03 L716.73,57.31 L717.70,56.60 L718.66,55.88 L719.63,55.17 L720.60,54.46 L721.57,53.75 L722.55,53.05 L723.53,52.36 L724.51,51.68 L725.50,51.00" fill="none" stroke="#0c9612" stroke-width="2.05" stroke-linejoin="round" stroke-dasharray="0 6.832 6.832 6.832" stroke-linecap="square"/></g>
<g><path d="M725.60,51.00 L726.30,163.80 L727.50,163.54 L729.73,163.02 L731.96,162.48 L734.19,161.91 L736.42,161.32 L738.65,160.71 L740.88,160.09 L743.12,159.46 L745.35,158.83 L747.58,158.19 L749.81,157.55 L752.04,156.93 L754.27,156.30 L756.50,155.68 L758.73,155.06 L760.96,154.44 L763.19,153.81 L765.42,153.18 L767.65,152.53 L769.88,151.87 L772.12,151.20 L774.35,150.50 L776.58,149.77 L778.81,149.02 L781.04,148.23 L783.27,147.41 L785.50,146.56 L787.73,145.68 L789.96,144.78 L792.19,143.87 L794.42,142.94 L796.65,142.00 L798.88,141.05 L801.12,140.08 L803.35,139.07 L805.58,138.03 L807.81,136.93 L810.04,135.79 L812.27,134.58 L814.50,133.30" fill="none" stroke="#0c9612" stroke-width="2.05" stroke-linejoin="round" stroke-dasharray="0 6.867 6.867 6.867" stroke-linecap="square" stroke-dashoffset="-3.0"/></g>
<text transform="translate(77.50,369.2) scale(1,1.05)" font-size="30.4" text-anchor="middle">0.0</text>
<text transform="translate(123.18,369.2) scale(1,1.05)" font-size="30.4" text-anchor="middle">0.2</text>
<text transform="translate(168.86,369.2) scale(1,1.05)" font-size="30.4" text-anchor="middle">0.4</text>
<text transform="translate(214.54,369.2) scale(1,1.05)" font-size="30.4" text-anchor="middle">0.6</text>
<text transform="translate(260.22,369.2) scale(1,1.05)" font-size="30.4" text-anchor="middle">0.8</text>
<text transform="translate(305.90,369.2) scale(1,1.05)" font-size="30.4" text-anchor="middle">1.0</text>
<text transform="translate(351.58,369.2) scale(1,1.05)" font-size="30.4" text-anchor="middle">1.2</text>
<text transform="translate(397.26,369.2) scale(1,1.05)" font-size="30.4" text-anchor="middle">1.4</text>
<text transform="translate(491.50,369.2) scale(1,1.05)" font-size="30.4" text-anchor="middle">0.0</text>
<text transform="translate(537.18,369.2) scale(1,1.05)" font-size="30.4" text-anchor="middle">0.2</text>
<text transform="translate(582.86,369.2) scale(1,1.05)" font-size="30.4" text-anchor="middle">0.4</text>
<text transform="translate(628.54,369.2) scale(1,1.05)" font-size="30.4" text-anchor="middle">0.6</text>
<text transform="translate(674.22,369.2) scale(1,1.05)" font-size="30.4" text-anchor="middle">0.8</text>
<text transform="translate(719.90,369.2) scale(1,1.05)" font-size="30.4" text-anchor="middle">1.0</text>
<text transform="translate(765.58,369.2) scale(1,1.05)" font-size="30.4" text-anchor="middle">1.2</text>
<text transform="translate(811.26,369.2) scale(1,1.05)" font-size="30.4" text-anchor="middle">1.4</text>
<g transform="translate(0,0)" fill="#111" stroke="none"><path d="M216.9,377.6 C217.4,376.3 219.0,375.8 220.3,376.2 C221.0,376.5 221.4,377.1 221.8,378.0 L229.9,398.5 L227.0,398.5 L219.2,379.0 C218.7,377.9 218.0,377.5 216.9,377.6 Z"/><path d="M223.0,386.6 L223.9,388.6 L215.9,398.5 L213.9,398.5 Z"/></g>
<g transform="translate(414,0)" fill="#111" stroke="none"><path d="M216.9,377.6 C217.4,376.3 219.0,375.8 220.3,376.2 C221.0,376.5 221.4,377.1 221.8,378.0 L229.9,398.5 L227.0,398.5 L219.2,379.0 C218.7,377.9 218.0,377.5 216.9,377.6 Z"/><path d="M223.0,386.6 L223.9,388.6 L215.9,398.5 L213.9,398.5 Z"/></g>
<text transform="translate(487.4,351.60) scale(1,1.05)" font-size="30.4" text-anchor="end">0</text>
<text transform="translate(487.4,304.90) scale(1,1.05)" font-size="30.4" text-anchor="end">1</text>
<text transform="translate(487.4,258.20) scale(1,1.05)" font-size="30.4" text-anchor="end">2</text>
<text transform="translate(487.4,211.50) scale(1,1.05)" font-size="30.4" text-anchor="end">3</text>
<text transform="translate(487.4,164.80) scale(1,1.05)" font-size="30.4" text-anchor="end">4</text>
<text transform="translate(487.4,118.10) scale(1,1.05)" font-size="30.4" text-anchor="end">5</text>
<text transform="translate(487.4,71.40) scale(1,1.05)" font-size="30.4" text-anchor="end">6</text>
<text transform="translate(487.4,24.70) scale(1,1.05)" font-size="30.4" text-anchor="end">7</text>
<text transform="translate(62.9,26.20) scale(1,1.05)" font-size="30.4" text-anchor="end">10</text>
<text transform="translate(62.6,16.80) scale(1,1.05)" font-size="21.5" text-anchor="start">1</text>
<text transform="translate(62.9,135.60) scale(1,1.05)" font-size="30.4" text-anchor="end">10</text>
<text transform="translate(62.6,126.20) scale(1,1.05)" font-size="21.5" text-anchor="start">0</text>
<text transform="translate(49.8,245.80) scale(1,1.05)" font-size="30.4" text-anchor="end">10</text>
<text transform="translate(49.5,236.40) scale(1,1.05)" font-size="21.5" text-anchor="start">−1</text>
<g fill="none" stroke="#111" stroke-linecap="round" stroke-linejoin="round"><path d="M1.3,194.7 L14.8,198.1" stroke-width="2.3" stroke-linecap="butt"/><path d="M6.7,195.6 L2.8,186.7" stroke-width="0.95"/><circle cx="2.6" cy="186.2" r="1.2" fill="#111" stroke="none"/><path d="M7.0,195.6 C7.0,192.2 7.6,189.7 10.2,188.6 C12.0,187.9 13.4,189.4 14.6,187.9 C15.7,186.3 14.0,184.7 10.6,184.3" stroke-width="1.35"/></g>
<g fill="none" stroke="#111" stroke-linecap="round" stroke-linejoin="round"><circle cx="423.6" cy="184.9" r="1.25" fill="#111" stroke="none"/><path d="M423.8,184.6 C426.2,183.5 430.0,184.1 432.6,185.8 C435.8,187.8 437.4,190.3 435.6,191.7 C433.8,193.0 430.5,192.9 427.7,192.6" stroke-width="1.4"/><path d="M427.7,192.6 C431.0,193.0 434.6,194.0 436.0,196.6 C437.2,199.2 435.6,200.9 432.2,201.0 C428.6,201.0 425.4,200.0 423.1,198.2" stroke-width="1.4"/></g>
<text transform="translate(358.6,49.8) scale(1,1.06)" font-size="34.5">(</text>
<text transform="translate(370.1,49.2) scale(1,0.94)" font-size="34.5">a</text>
<text transform="translate(385.40000000000003,49.8) scale(1,1.06)" font-size="34.5">)</text>
<text transform="translate(772.0,49.8) scale(1,1.06)" font-size="34.5">(</text>
<text transform="translate(784.1,49.2) scale(1,0.915)" font-size="34.5">b</text>
<text transform="translate(800.8,49.8) scale(1,1.06)" font-size="34.5">)</text>
<path d="M86.00,189.80 H128.90" fill="none" stroke="#cc3a08" stroke-width="2.05" stroke-dasharray="0 6.83" stroke-linecap="square"/>
<g transform="translate(133.00,194.80)" fill="none" stroke="#111" stroke-linecap="butt"><path d="M2.0,-19.9 H19.9" stroke-width="1.35"/><path d="M2.6,-20.3 L0.4,-13.8" stroke-width="1.05"/><path d="M19.5,-20.3 L18.5,-13.6" stroke-width="1.05"/><path d="M11.7,-20.2 L7.1,-0.5" stroke-width="2.7"/><path d="M1.2,-0.45 H12.0" stroke-width="1.25"/></g>
<path d="M158.90,173.30 L158.90,181.90 M155.18,175.45 L162.62,179.75 M155.18,179.75 L162.62,175.45" fill="none" stroke="#111" stroke-width="1.45" stroke-linecap="round"/>
<path d="M175.10,184.70 h20.1 M175.10,190.80 h20.1" fill="none" stroke="#111" stroke-width="1.35"/>
<text transform="translate(205.30,194.80) scale(1,1.05)" font-size="30.4" text-anchor="start">0.1</text>
<path d="M86.00,230.60 H128.90" fill="none" stroke="#2e60cf" stroke-width="2.05" stroke-linecap="square"/>
<g transform="translate(133.00,235.60)" fill="none" stroke="#111" stroke-linecap="butt"><path d="M2.0,-19.9 H19.9" stroke-width="1.35"/><path d="M2.6,-20.3 L0.4,-13.8" stroke-width="1.05"/><path d="M19.5,-20.3 L18.5,-13.6" stroke-width="1.05"/><path d="M11.7,-20.2 L7.1,-0.5" stroke-width="2.7"/><path d="M1.2,-0.45 H12.0" stroke-width="1.25"/></g>
<path d="M158.90,214.10 L158.90,222.70 M155.18,216.25 L162.62,220.55 M155.18,220.55 L162.62,216.25" fill="none" stroke="#111" stroke-width="1.45" stroke-linecap="round"/>
<path d="M175.10,225.50 h20.1 M175.10,231.60 h20.1" fill="none" stroke="#111" stroke-width="1.35"/>
<text transform="translate(205.30,235.60) scale(1,1.05)" font-size="30.4" text-anchor="start">0.3</text>
<path d="M86.00,271.40 H128.90" fill="none" stroke="#ff9900" stroke-width="2.05" stroke-dasharray="6.83 6.83" stroke-linecap="square"/>
<g transform="translate(133.00,276.40)" fill="none" stroke="#111" stroke-linecap="butt"><path d="M2.0,-19.9 H19.9" stroke-width="1.35"/><path d="M2.6,-20.3 L0.4,-13.8" stroke-width="1.05"/><path d="M19.5,-20.3 L18.5,-13.6" stroke-width="1.05"/><path d="M11.7,-20.2 L7.1,-0.5" stroke-width="2.7"/><path d="M1.2,-0.45 H12.0" stroke-width="1.25"/></g>
<path d="M158.90,254.90 L158.90,263.50 M155.18,257.05 L162.62,261.35 M155.18,261.35 L162.62,257.05" fill="none" stroke="#111" stroke-width="1.45" stroke-linecap="round"/>
<path d="M175.10,266.30 h20.1 M175.10,272.40 h20.1" fill="none" stroke="#111" stroke-width="1.35"/>
<text transform="translate(205.30,276.40) scale(1,1.05)" font-size="30.4" text-anchor="start">1.0</text>
<path d="M86.00,312.20 H128.90" fill="none" stroke="#0c9612" stroke-width="2.05" stroke-dasharray="0 6.83 6.83 6.83" stroke-linecap="square"/>
<g transform="translate(133.00,317.20)" fill="none" stroke="#111" stroke-linecap="butt"><path d="M2.0,-19.9 H19.9" stroke-width="1.35"/><path d="M2.6,-20.3 L0.4,-13.8" stroke-width="1.05"/><path d="M19.5,-20.3 L18.5,-13.6" stroke-width="1.05"/><path d="M11.7,-20.2 L7.1,-0.5" stroke-width="2.7"/><path d="M1.2,-0.45 H12.0" stroke-width="1.25"/></g>
<path d="M158.90,295.70 L158.90,304.30 M155.18,297.85 L162.62,302.15 M155.18,302.15 L162.62,297.85" fill="none" stroke="#111" stroke-width="1.45" stroke-linecap="round"/>
<path d="M175.10,307.10 h20.1 M175.10,313.20 h20.1" fill="none" stroke="#111" stroke-width="1.35"/>
<text transform="translate(205.30,317.20) scale(1,1.05)" font-size="30.4" text-anchor="start">5.0</text>
<path d="M526.50,180.30 H569.40" fill="none" stroke="#cc3a08" stroke-width="2.05" stroke-dasharray="0 6.83" stroke-linecap="square"/>
<g transform="translate(573.50,185.30)" fill="none" stroke="#111" stroke-linecap="butt"><path d="M2.0,-19.9 H19.9" stroke-width="1.35"/><path d="M2.6,-20.3 L0.4,-13.8" stroke-width="1.05"/><path d="M19.5,-20.3 L18.5,-13.6" stroke-width="1.05"/><path d="M11.7,-20.2 L7.1,-0.5" stroke-width="2.7"/><path d="M1.2,-0.45 H12.0" stroke-width="1.25"/></g>
<path d="M599.40,163.80 L599.40,172.40 M595.68,165.95 L603.12,170.25 M595.68,170.25 L603.12,165.95" fill="none" stroke="#111" stroke-width="1.45" stroke-linecap="round"/>
<path d="M615.60,175.20 h20.1 M615.60,181.30 h20.1" fill="none" stroke="#111" stroke-width="1.35"/>
<text transform="translate(645.80,185.30) scale(1,1.05)" font-size="30.4" text-anchor="start">0.1</text>
<path d="M526.50,221.10 H569.40" fill="none" stroke="#2e60cf" stroke-width="2.05" stroke-linecap="square"/>
<g transform="translate(573.50,226.10)" fill="none" stroke="#111" stroke-linecap="butt"><path d="M2.0,-19.9 H19.9" stroke-width="1.35"/><path d="M2.6,-20.3 L0.4,-13.8" stroke-width="1.05"/><path d="M19.5,-20.3 L18.5,-13.6" stroke-width="1.05"/><path d="M11.7,-20.2 L7.1,-0.5" stroke-width="2.7"/><path d="M1.2,-0.45 H12.0" stroke-width="1.25"/></g>
<path d="M599.40,204.60 L599.40,213.20 M595.68,206.75 L603.12,211.05 M595.68,211.05 L603.12,206.75" fill="none" stroke="#111" stroke-width="1.45" stroke-linecap="round"/>
<path d="M615.60,216.00 h20.1 M615.60,222.10 h20.1" fill="none" stroke="#111" stroke-width="1.35"/>
<text transform="translate(645.80,226.10) scale(1,1.05)" font-size="30.4" text-anchor="start">0.3</text>
<path d="M526.50,261.90 H569.40" fill="none" stroke="#ff9900" stroke-width="2.05" stroke-dasharray="6.83 6.83" stroke-linecap="square"/>
<g transform="translate(573.50,266.90)" fill="none" stroke="#111" stroke-linecap="butt"><path d="M2.0,-19.9 H19.9" stroke-width="1.35"/><path d="M2.6,-20.3 L0.4,-13.8" stroke-width="1.05"/><path d="M19.5,-20.3 L18.5,-13.6" stroke-width="1.05"/><path d="M11.7,-20.2 L7.1,-0.5" stroke-width="2.7"/><path d="M1.2,-0.45 H12.0" stroke-width="1.25"/></g>
<path d="M599.40,245.40 L599.40,254.00 M595.68,247.55 L603.12,251.85 M595.68,251.85 L603.12,247.55" fill="none" stroke="#111" stroke-width="1.45" stroke-linecap="round"/>
<path d="M615.60,256.80 h20.1 M615.60,262.90 h20.1" fill="none" stroke="#111" stroke-width="1.35"/>
<text transform="translate(645.80,266.90) scale(1,1.05)" font-size="30.4" text-anchor="start">1.0</text>
<path d="M526.50,302.70 H569.40" fill="none" stroke="#0c9612" stroke-width="2.05" stroke-dasharray="0 6.83 6.83 6.83" stroke-linecap="square"/>
<g transform="translate(573.50,307.70)" fill="none" stroke="#111" stroke-linecap="butt"><path d="M2.0,-19.9 H19.9" stroke-width="1.35"/><path d="M2.6,-20.3 L0.4,-13.8" stroke-width="1.05"/><path d="M19.5,-20.3 L18.5,-13.6" stroke-width="1.05"/><path d="M11.7,-20.2 L7.1,-0.5" stroke-width="2.7"/><path d="M1.2,-0.45 H12.0" stroke-width="1.25"/></g>
<path d="M599.40,286.20 L599.40,294.80 M595.68,288.35 L603.12,292.65 M595.68,292.65 L603.12,288.35" fill="none" stroke="#111" stroke-width="1.45" stroke-linecap="round"/>
<path d="M615.60,297.60 h20.1 M615.60,303.70 h20.1" fill="none" stroke="#111" stroke-width="1.35"/>
<text transform="translate(645.80,307.70) scale(1,1.05)" font-size="30.4" text-anchor="start">5.0</text>
</svg></body></html>
